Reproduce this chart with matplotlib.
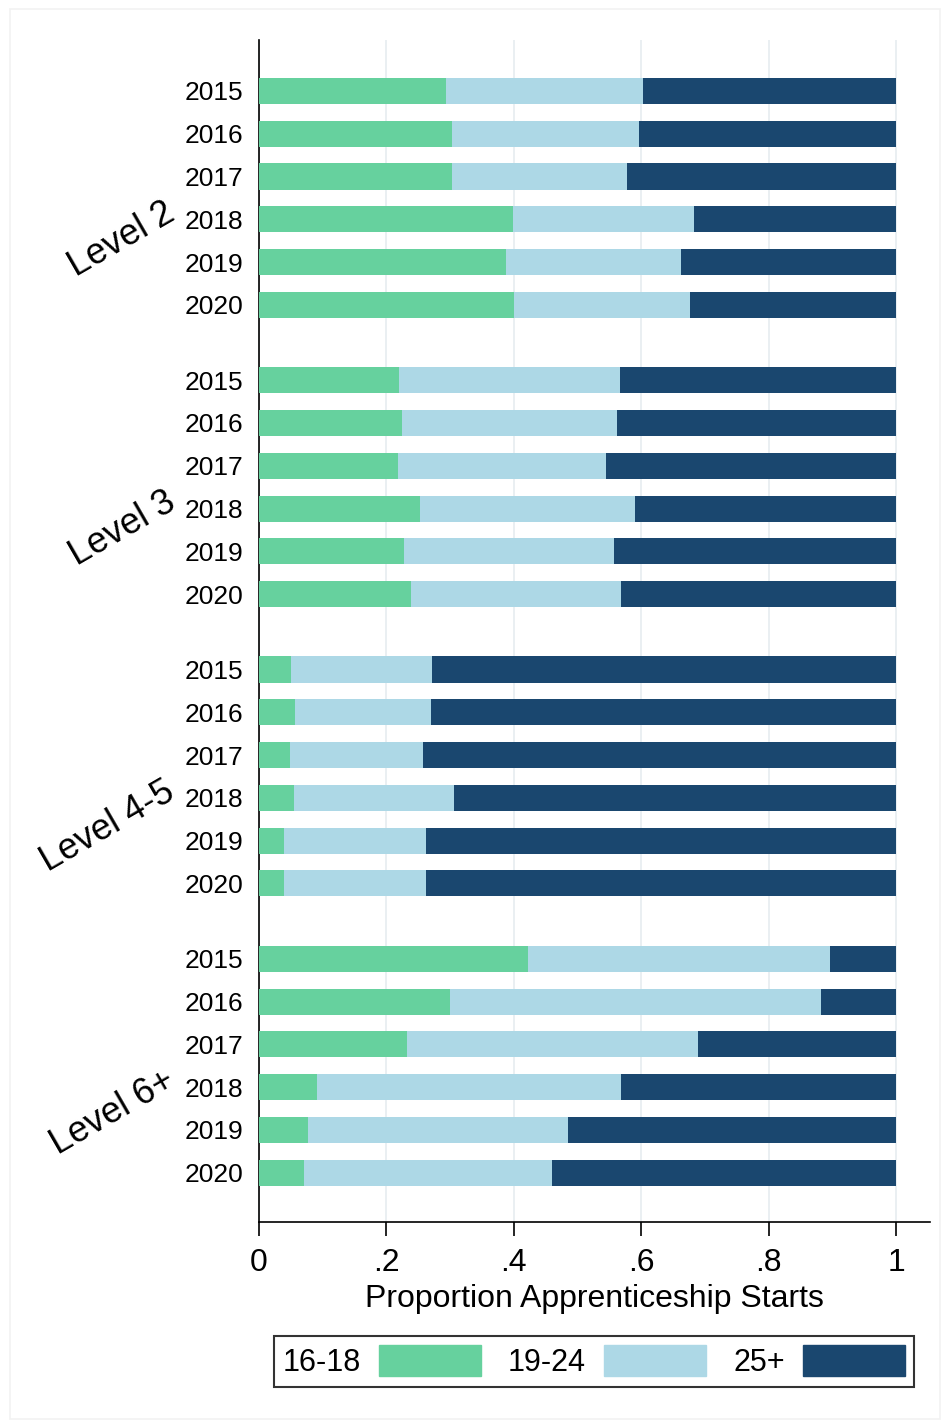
import numpy as np
import matplotlib.pyplot as plt
from matplotlib.patches import Patch, Rectangle

plt.rcParams['font.family'] = ['Liberation Sans', 'DejaVu Sans']

LEVELS = ['Level 2', 'Level 3', 'Level 4-5', 'Level 6+']
YEARS = ['2015', '2016', '2017', '2018', '2019', '2020']
AGE_GROUPS = ['16-18', '19-24', '25+']
COLORS = ['#66D19E', '#ADD8E6', '#1A476F']

# share of starts per level/year (rows follow YEARS)
share_16_18 = [
    [0.294, 0.303, 0.303, 0.399, 0.388, 0.400],
    [0.220, 0.224, 0.218, 0.253, 0.228, 0.239],
    [0.050, 0.057, 0.049, 0.055, 0.039, 0.039],
    [0.422, 0.300, 0.232, 0.091, 0.077, 0.071],
]
share_19_24 = [
    [0.309, 0.294, 0.275, 0.284, 0.274, 0.277],
    [0.347, 0.338, 0.327, 0.337, 0.329, 0.329],
    [0.222, 0.213, 0.208, 0.251, 0.223, 0.223],
    [0.474, 0.582, 0.457, 0.477, 0.408, 0.389],
]

GROUP_STEP = 6.76
BAR_H = 0.61

fig = plt.figure(figsize=(9.47, 14.28), dpi=100)
fig.patches.append(Rectangle((0.011, 0.006), 0.982, 0.988, transform=fig.transFigure,
                             fill=False, edgecolor='#f2f2f2', linewidth=1.2))
ax = fig.add_axes([0.2735, 0.1443, 0.7086, 0.8277])

ypos, ylabels = [], []
for g, level in enumerate(LEVELS):
    a = np.array(share_16_18[g])
    b = np.array(share_19_24[g])
    c = 1 - a - b
    y = g * GROUP_STEP + np.arange(len(YEARS))
    ax.barh(y, a, height=BAR_H, color=COLORS[0], zorder=3)
    ax.barh(y, b, left=a, height=BAR_H, color=COLORS[1], zorder=3)
    ax.barh(y, c, left=a + b, height=BAR_H, color=COLORS[2], zorder=3)
    ypos.extend(y)
    ylabels.extend(YEARS)
    ax.text(-0.136, y.mean() + 0.3, level, rotation=30, rotation_mode='anchor',
            ha='right', va='center', fontsize=26)

ax.set_yticks(ypos)
ax.set_yticklabels(ylabels, fontsize=19)
ax.tick_params(axis='y', length=0, pad=11)
ax.set_ylim(3 * GROUP_STEP + 5 + 1.15, -1.19)

ax.set_xlim(0, 1.053)
ax.set_xticks([0, 0.2, 0.4, 0.6, 0.8, 1])
ax.set_xticklabels(['0', '.2', '.4', '.6', '.8', '1'], fontsize=23)
ax.tick_params(axis='x', length=10, width=1.2, pad=9)
ax.set_xlabel('Proportion Apprenticeship Starts', fontsize=23, labelpad=4)
ax.xaxis.grid(True, color='#e6ecf0', linewidth=1.2, zorder=0)
ax.set_axisbelow(True)

for side in ['top', 'right']:
    ax.spines[side].set_visible(False)
ax.spines['left'].set_linewidth(1.2)
ax.spines['bottom'].set_linewidth(1.2)

handles = [Patch(color=col) for col in COLORS]
leg = fig.legend(handles, AGE_GROUPS, loc='center', bbox_to_anchor=(0.627, 0.0466),
                 ncol=3, markerfirst=False, fontsize=22, frameon=True, fancybox=False,
                 handlelength=3.33, handleheight=1.2, handletextpad=0.6,
                 columnspacing=0.88, borderpad=0.3)
leg.get_frame().set_edgecolor('black')
leg.get_frame().set_linewidth(1.5)

fig.savefig('out.png', dpi=100)
